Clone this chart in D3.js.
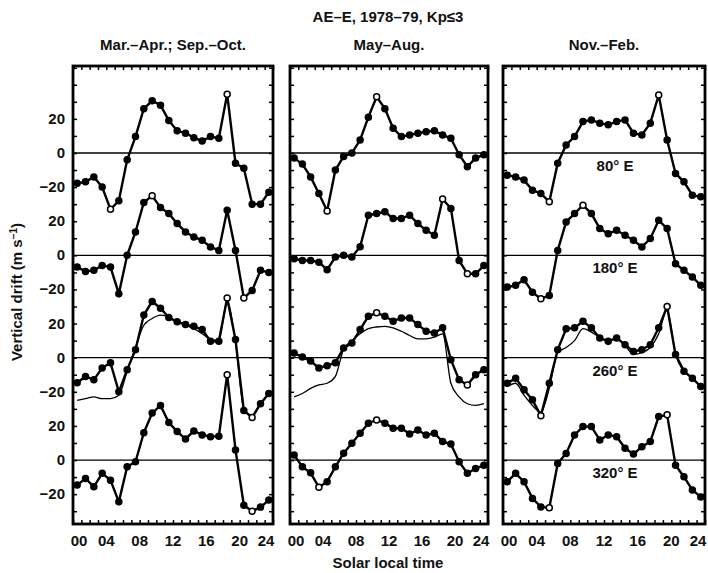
<!DOCTYPE html>
<html>
<head>
<meta charset="utf-8">
<script src="https://cdn.jsdelivr.net/npm/d3@7"></script>
<style>
  body { margin: 0; background: #fff; }
  text { font-family: "Liberation Sans", Arial, sans-serif; fill: #111; font-weight: bold; }
</style>
</head>
<body>
<svg id="chart" width="708" height="573"></svg>
<script>
// half-hour centres of the hourly bins
const hours = [0.5, 1.5, 2.5, 3.5, 4.5, 5.5, 6.5, 7.5, 8.5, 9.5, 10.5, 11.5,
               12.5, 13.5, 14.5, 15.5, 16.5, 17.5, 18.5, 19.5, 20.5, 21.5, 22.5, 23.5];

const seasons = ["Mar.\u2013Apr.;  Sep.\u2013Oct.", "May\u2013Aug.", "Nov.\u2013Feb."];
const stations = ["80\u00b0 E", "180\u00b0 E", "260\u00b0 E", "320\u00b0 E"];
const hourTicks = [0, 4, 8, 12, 16, 20, 24];
const hourLabels = ["00", "04", "08", "12", "16", "20", "24"];
const driftTicks = [20, 0, -20];
const driftLabels = ["20", "0", "\u221220"];

// Mar.-Apr.; Sep.-Oct.
const equinox80  = [-17.8, -16.9, -14, -20, -33, -28, -4, 9.6, 26, 30.6, 28, 19, 13, 11.6, 9, 7, 9.6, 8.6, 34.5, -6, -9, -30, -30, -23];
const equinox180 = [-6.9, -9.4, -8.8, -5.9, -6.9, -22.5, 0, 13.7, 31, 35, 28, 24.5, 18.6, 13.7, 10.8, 8.8, 4.9, 2.9, 26.5, 2.9, -25, -20.6, -8.8, -10];
const equinox260 = [-14.7, -11, -13, -6, -3, -20, -7, 4.7, 25, 33, 29, 23.5, 21, 19.4, 18.4, 16.5, 9.6, 9.6, 35, 10.6, -31, -35, -27, -21];
const equinox260thin = [-25, -24, -23, -24, -24, -22, -8, 6, 19, 23, 25, 24, 21, 19, 17, 14, 11, 10, 33, 9, -30, -34, -27, -21];
const equinox320 = [-14.7, -10.8, -15.7, -7.8, -11.8, -24.5, -3.9, -1, 16, 27.5, 32, 22, 16.7, 12.4, 17, 14.7, 13.7, 14, 50, 5.9, -26.5, -30, -27.6, -23.5];

// May-Aug.
const summer80  = [-3, -6.5, -14, -23.7, -34, -10, -2, 0, 7.6, 21, 33, 26, 14.5, 9.6, 10.6, 11.6, 12.5, 13, 10.6, 8.6, -1, -8, -3, -1];
const summer180 = [-2, -3, -3, -4, -8.4, -1, 0, -1, 5, 23.5, 24.5, 25.5, 21.6, 21.6, 23.5, 18.6, 14.7, 11.8, 33, 27.5, -3, -10.8, -10.8, -6];
const summer260 = [2.7, 0.4, -2, -6, -4.7, -3, 5.7, 8.6, 16.5, 24.3, 26.3, 24.3, 21.4, 23.3, 23.3, 19.4, 15.5, 14.5, 17.5, -1.2, -13, -16, -10, -7];
const summer260thin = [-23, -21, -18, -16, -15, -11, 5, 10, 14, 17, 18, 18.4, 17.5, 15.5, 13, 11, 11, 12, 14, -15, -23, -27, -28, -27];
const summer320 = [3, -4, -7.5, -16, -12.7, -4, 4, 9.8, 15.7, 21.6, 23.5, 21.6, 18.6, 18.6, 15.3, 17.6, 14.7, 15.7, 10.8, 9.4, -1, -7.8, -5, -3];

// Nov.-Feb.
const winter80  = [-13, -14, -15.9, -21.8, -23.7, -28.6, -6, 4.7, 9.6, 18.4, 19.4, 17.5, 16.5, 18.4, 19.4, 11.6, 10.6, 17.5, 34, 7.6, -12, -16.9, -24.7, -25.7];
const winter180 = [-18.6, -17.6, -14.3, -21.6, -25.5, -23.5, 2.9, 19.6, 24.5, 29.4, 24.5, 15.7, 12.7, 14.7, 11.8, 8.8, 4.9, 9.8, 20.6, 15.7, -4.9, -8.8, -12.7, -17.6];
const winter260 = [-15, -12, -18.8, -24.7, -34, -15, 4.7, 16.9, 17.5, 21.4, 17.5, 11.6, 9.6, 11.6, 7.6, 3.7, 4.7, 7.6, 17.5, 30, 1.8, -8, -12, -16.9];
const winter260thin = [-17, -15, -22, -28, -32, -18, 3, 6, 10, 17, 15, 12, 10, 11, 7, 2, 3, 6, 14, 28, 2, -8, -12, -17];
const winter320 = [-12.7, -7.8, -12.7, -22.5, -27.5, -28, -2, 3.9, 14.7, 19.6, 19.6, 11.8, 14.7, 13.7, 6.9, 3.5, 7.8, 10.8, 25.5, 26.5, -3, -9.8, -17.6, -21.6];

const panels = [
  { title: seasons[0], traces: [equinox80, equinox180, equinox260, equinox320], thin: equinox260thin },
  { title: seasons[1], traces: [summer80, summer180, summer260, summer320], thin: summer260thin },
  { title: seasons[2], traces: [winter80, winter180, winter260, winter320], thin: winter260thin }
];

const svg = d3.select("#chart");
const panelX = [[73, 273], [290, 488], [503, 705]];
const plotTop = 66, plotBottom = 524;
const gap = 60; // m/s between stacked stations

const y = d3.scaleLinear().domain([-217.5, 51]).range([plotBottom, plotTop]);
const yMinor = d3.range(-210, 51, 10);
const hourMinor = d3.range(0, 25, 1);

svg.append("rect").attr("width", 708).attr("height", 573).attr("fill", "#fff");

panels.forEach((p, i) => {
  const x = d3.scaleLinear().domain([0, 24]).range(panelX[i]);
  const g = svg.append("g");

  // zero lines
  stations.forEach((s, k) => {
    g.append("line")
      .attr("x1", x(0)).attr("x2", x(24))
      .attr("y1", y(-gap * k)).attr("y2", y(-gap * k))
      .attr("stroke", "#000").attr("stroke-width", 1.3);
  });

  // inward ticks on all four sides
  const axes = [
    [d3.axisLeft(y).tickValues(yMinor), `translate(${x(0)},0)`],
    [d3.axisRight(y).tickValues(yMinor), `translate(${x(24)},0)`],
    [d3.axisTop(x).tickValues(hourMinor), `translate(0,${plotTop})`],
    [d3.axisBottom(x).tickValues(hourMinor), `translate(0,${plotBottom})`]
  ];
  axes.forEach(([ax, tr]) => {
    const a = g.append("g").attr("transform", tr)
      .call(ax.tickSize(-4).tickFormat(""));
    a.select(".domain").remove();
    a.selectAll("line").attr("stroke", "#000").attr("stroke-width", 1.5);
  });

  g.append("rect")
    .attr("x", x(0)).attr("y", plotTop)
    .attr("width", x(24) - x(0)).attr("height", plotBottom - plotTop)
    .attr("fill", "none").attr("stroke", "#000").attr("stroke-width", 2.8);

  // hour labels
  g.selectAll(".hl").data(hourTicks).join("text")
    .attr("x", (d, j) => x(d) + (j === 0 ? 6 : j === hourTicks.length - 1 ? -7 : 0))
    .attr("y", 546)
    .attr("text-anchor", "middle")
    .attr("font-size", 15)
    .text((d, j) => hourLabels[j]);

  // season title
  g.append("text")
    .attr("x", (x(0) + x(24)) / 2).attr("y", 50)
    .attr("text-anchor", "middle").attr("font-size", 15)
    .text(p.title);

  // thin comparison curve on the 260 E trace
  const thinLine = d3.line()
    .x((d, j) => x(hours[j]))
    .y(d => y(d - gap * 2))
    .curve(d3.curveMonotoneX);
  g.append("path").datum(p.thin)
    .attr("d", thinLine)
    .attr("fill", "none").attr("stroke", "#000").attr("stroke-width", 1.3);

  p.traces.forEach((tr, k) => {
    const line = d3.line()
      .x((d, j) => x(hours[j]))
      .y(d => y(d - gap * k));
    g.append("path").datum(tr)
      .attr("d", line)
      .attr("fill", "none").attr("stroke", "#000").attr("stroke-width", 2.4);

    const hi = d3.maxIndex(tr), lo = d3.minIndex(tr);
    g.selectAll(null).data(tr).join("circle")
      .attr("cx", (d, j) => x(hours[j]))
      .attr("cy", d => y(d - gap * k))
      .attr("r", 3)
      .attr("fill", (d, j) => (j === hi || j === lo) ? "#fff" : "#000")
      .attr("stroke", "#000").attr("stroke-width", 1.5);
  });

  // station labels in the right panel
  if (i === 2) {
    g.selectAll(".st").data(stations).join("text")
      .attr("x", 615)
      .attr("y", (d, k) => y(-gap * k) + 18)
      .attr("text-anchor", "middle").attr("font-size", 15)
      .text(d => d);
  }

  // drift labels on the left panel
  if (i === 0) {
    stations.forEach((s, k) => {
      g.selectAll(null).data(driftTicks).join("text")
        .attr("x", 65)
        .attr("y", d => y(d - gap * k) + 5)
        .attr("text-anchor", "end").attr("font-size", 15)
        .text((d, j) => driftLabels[j]);
    });
  }
});

svg.append("text")
  .attr("x", 388).attr("y", 22)
  .attr("text-anchor", "middle").attr("font-size", 15)
  .text("AE\u2013E, 1978\u201379, Kp\u22643");

svg.append("text")
  .attr("x", 388).attr("y", 568)
  .attr("text-anchor", "middle").attr("font-size", 15)
  .text("Solar local time");

svg.append("text")
  .attr("transform", "translate(22,292) rotate(-90)")
  .attr("text-anchor", "middle").attr("font-size", 15)
  .html("Vertical drift (m s<tspan dy='-5' font-size='10'>\u22121</tspan><tspan dy='5'>)</tspan>");
</script>
</body>
</html>
